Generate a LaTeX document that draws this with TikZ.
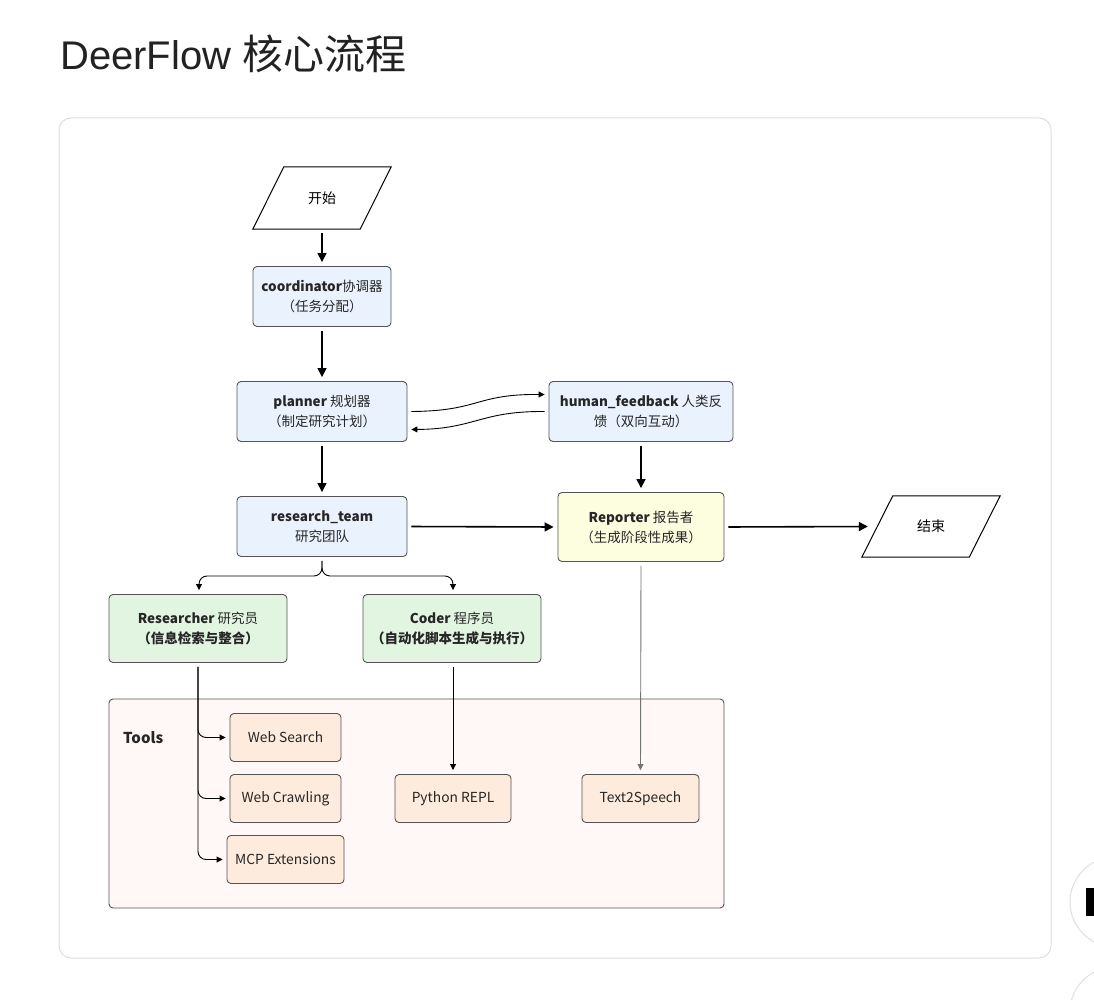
\documentclass[tikz,border=0pt]{standalone}
\usepackage{fontspec}
\setmainfont{Noto Sans CJK SC}
\newfontfamily\titlelatin{Liberation Sans}
\usetikzlibrary{arrows.meta,shapes.geometric}
\definecolor{nblue}{RGB}{234,242,254}
\definecolor{nyellow}{RGB}{253,253,224}
\definecolor{ngreen}{RGB}{226,245,225}
\definecolor{npeach}{RGB}{253,236,221}
\definecolor{ntools}{RGB}{255,248,246}
\definecolor{nborder}{RGB}{85,85,85}
\definecolor{ncard}{RGB}{222,222,222}
\definecolor{ntitle}{RGB}{34,34,34}
\begin{document}
\begin{tikzpicture}[x=1pt,y=-1pt,
  box/.style={draw=nborder,line width=0.9pt,rounded corners=4pt,align=center,
    font=\fontsize{13.5}{20}\selectfont,inner sep=0pt,text=black!85},
  bluebox/.style={box,fill=nblue},
  yellowbox/.style={box,fill=nyellow},
  greenbox/.style={box,fill=ngreen},
  toolbox/.style={box,fill=npeach,minimum height=48pt,font=\fontsize{13.8}{16}\selectfont},
  plain/.style={align=center,font=\fontsize{14}{18}\selectfont,inner sep=0pt},
  mainarrow/.style={line width=1.6pt,-{Triangle[length=9pt,width=9pt]},shorten <=4pt,shorten >=4pt},
  thinarrow/.style={line width=0.9pt,-{Triangle[length=6pt,width=6pt]}},
  grayarrow/.style={line width=0.9pt,draw=black!55,-{Triangle[length=6pt,width=6pt]}}
]
\useasboundingbox (0,0) rectangle (1094,1000);
\fill[white] (0,0) rectangle (1094,1000);

% title
\node[anchor=base west,inner sep=0pt,text=ntitle] (title) at (60,70)
  {\fontsize{40}{44}\selectfont\titlelatin DeerFlow\ \fontsize{41}{44}\selectfont\rmfamily 核心流程};

% card
\draw[ncard,line width=1pt,rounded corners=12pt] (59,118) rectangle (1051,958);

% right edge UI buttons
\begin{scope}
\clip (0,0) rectangle (1094,1000);
\draw[black!12,fill=white,line width=1pt] (1115,902) circle (45);
\fill[black] (1086,888) rectangle (1094,916);
\draw[black!12,fill=white,line width=1pt] (1115,1012) circle (45);
\end{scope}

% start / end
\node[plain,minimum width=138pt,minimum height=62pt] (start) at (322,198) {开始};
\draw[line width=1pt] ([xshift=31pt]start.north west) -- (start.north east)
  -- ([xshift=-31pt]start.south east) -- (start.south west) -- cycle;
\node[plain,minimum width=138pt,minimum height=61pt] (end) at (931,526.5) {结束};
\draw[line width=1pt] ([xshift=31pt]end.north west) -- (end.north east)
  -- ([xshift=-31pt]end.south east) -- (end.south west) -- cycle;

% main nodes
\node[bluebox,minimum width=138pt,minimum height=60pt] (coord) at (322,296.5)
  {\textbf{coordinator}协调器\\（任务分配）};
\node[bluebox,minimum width=170pt,minimum height=60pt] (planner) at (322,411.5)
  {\textbf{planner} 规划器\\（制定研究计划）};
\node[bluebox,minimum width=184pt,minimum height=60pt] (hf) at (641,411.5)
  {\textbf{human\_feedback} 人类反\\馈（双向互动）};
\node[bluebox,minimum width=170pt,minimum height=60pt] (team) at (322,526.5)
  {\textbf{research\_team}\\研究团队};
\node[yellowbox,minimum width=166pt,minimum height=69pt] (reporter) at (641,527)
  {\textbf{Reporter} 报告者\\（生成阶段性成果）};
\node[greenbox,minimum width=178pt,minimum height=68pt] (researcher) at (198,628.5)
  {\textbf{Researcher} 研究员\\\textbf{（信息检索与整合）}};
\node[greenbox,minimum width=178pt,minimum height=68pt] (coder) at (452,628.5)
  {\textbf{Coder} 程序员\\\textbf{（自动化脚本生成与执行）}};

% tools group
\draw[nborder,line width=0.9pt,fill=ntools,rounded corners=4pt] (109,699) rectangle (724,908);
\node[anchor=west,inner sep=0pt,font=\fontsize{15}{18}\selectfont\bfseries,text=black!85] (toolslabel) at (123,738) {Tools};
\node[toolbox,minimum width=111pt] (ws) at (285.5,737.5) {Web Search};
\node[toolbox,minimum width=111pt] (wc) at (285.5,798.5) {Web Crawling};
\node[toolbox,minimum width=117pt] (mcp) at (285.5,859.5) {MCP Extensions};
\node[toolbox,minimum width=116pt] (py) at (453,798.5) {Python REPL};
\node[toolbox,minimum width=117pt] (tts) at (640.5,798.5) {Text2Speech};

% connectors
\draw[mainarrow] (start.south) -- (coord.north);
\draw[mainarrow] (coord.south) -- (planner.north);
\draw[mainarrow] (planner.south) -- (team.north);
\draw[mainarrow] (hf.south) -- (reporter.north);
\draw[mainarrow] (team.east) -- (reporter.west);
\draw[mainarrow] (reporter.east) -- ([xshift=10pt]end.west);

\draw[thinarrow] ([xshift=4pt]planner.east) .. controls (480,411) and (475,394) .. ([xshift=-4pt,yshift=17pt]hf.west);
\draw[thinarrow] ([xshift=-4pt]hf.west) .. controls (480,411) and (475,429) .. ([xshift=4pt,yshift=-18pt]planner.east);

\coordinate (split) at (322,576);
\draw[thinarrow,rounded corners=8pt] ([yshift=-4pt]team.south) -- (split) -| ([xshift=1pt,yshift=4pt]researcher.north);
\draw[thinarrow,rounded corners=8pt] ([yshift=-4pt]team.south) -- (split) -| ([xshift=1pt,yshift=4pt]coder.north);

\coordinate (rl) at ([yshift=-4pt]researcher.south);
\draw[thinarrow,rounded corners=8pt] (rl) |- ([xshift=-4pt]ws.west);
\draw[thinarrow,rounded corners=8pt] (rl) |- ([xshift=-4pt]wc.west);
\draw[thinarrow,rounded corners=8pt] (rl) |- ([xshift=-4pt]mcp.west);
\draw[thinarrow] ([xshift=1pt,yshift=-4pt]coder.south) -- ([yshift=4pt]py.north);
\draw[grayarrow] ([yshift=-4pt]reporter.south) -- ([yshift=4pt]tts.north);
\end{tikzpicture}
\end{document}
